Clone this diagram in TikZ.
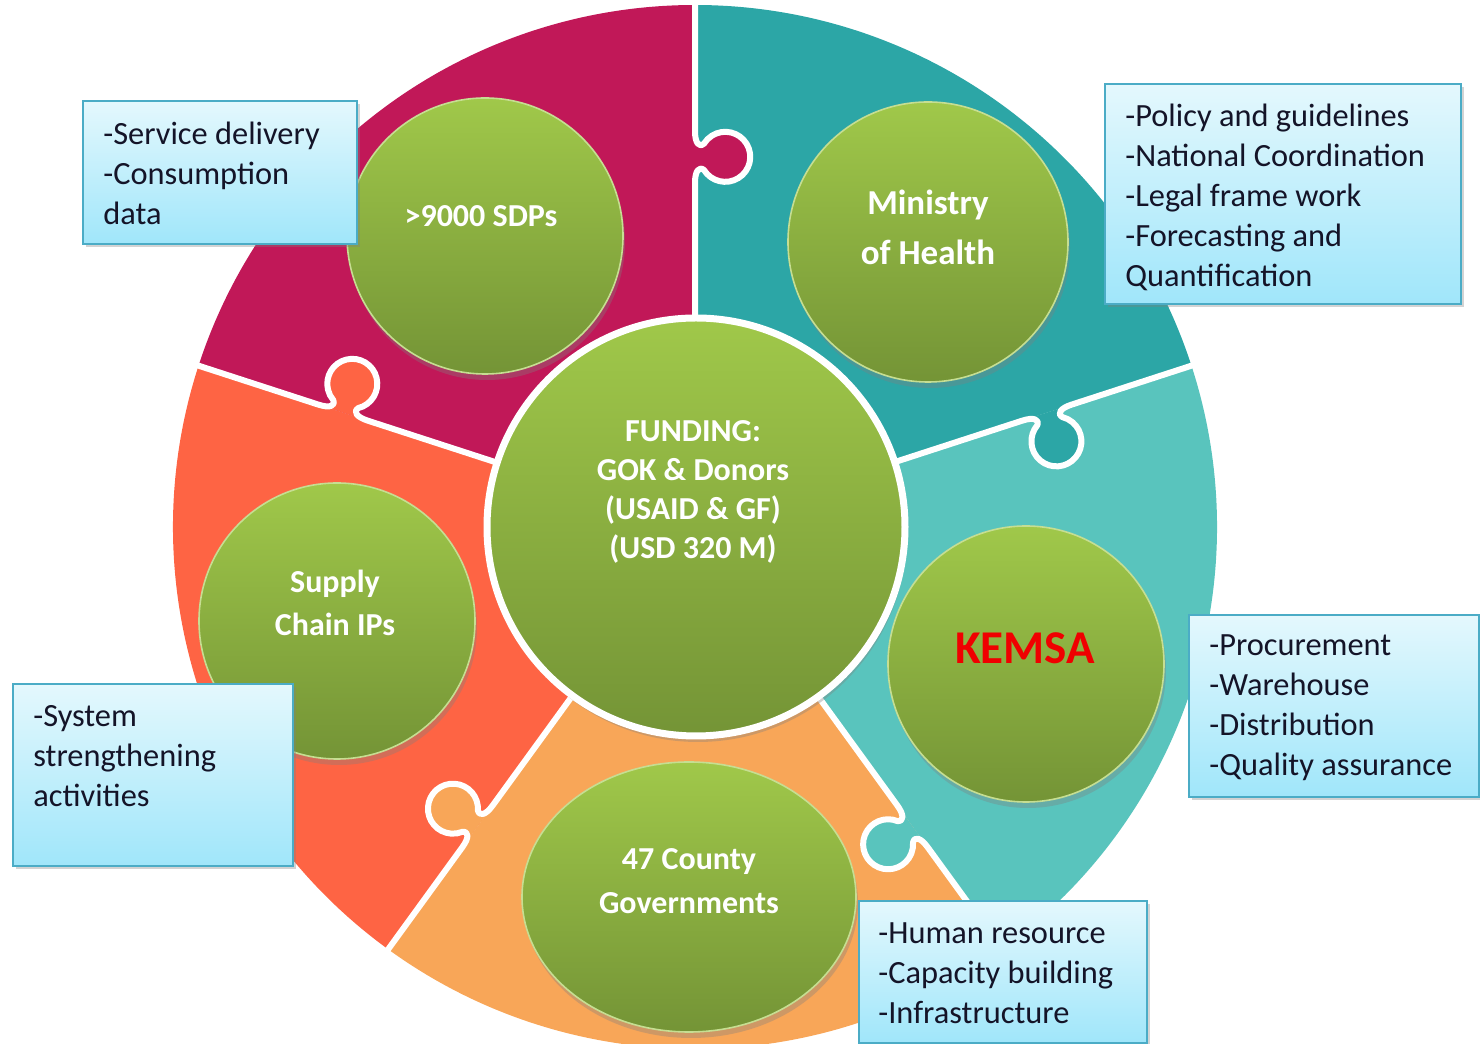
\documentclass[tikz,border=0pt]{standalone}
\usepackage{fontspec}
\setmainfont{Carlito}
\usetikzlibrary{shadows,shapes.geometric}
\definecolor{cMag}{RGB}{193,24,88}
\definecolor{cDTeal}{RGB}{44,166,166}
\definecolor{cLTeal}{RGB}{89,196,189}
\definecolor{cOrg}{RGB}{248,166,88}
\definecolor{cRed}{RGB}{254,100,68}
\definecolor{gTop}{RGB}{160,200,74}
\definecolor{gBot}{RGB}{116,148,54}
\definecolor{bTop}{RGB}{228,248,253}
\definecolor{bBot}{RGB}{160,230,250}
\definecolor{bEdge}{RGB}{75,172,198}
\definecolor{kRed}{RGB}{240,0,0}
\definecolor{bText}{RGB}{20,20,40}
\begin{document}
\begin{tikzpicture}[x=0.5pt,y=0.5pt,
  gcirc/.style={circle, inner sep=0pt, top color=gTop, bottom color=gBot,
    draw=gTop!60!white, line width=0.8pt,
    drop shadow={shadow xshift=1pt, shadow yshift=-3pt, opacity=0.35}},
  ctext/.style={text=white, align=center, inner sep=0pt,
    font=\bfseries\fontsize{16}{21.5}\selectfont},
  infobox/.style={rectangle, inner sep=0pt, anchor=north west,
    top color=bTop, bottom color=bBot, draw=bEdge, line width=0.9pt,
    drop shadow={shadow xshift=1.5pt, shadow yshift=-1.5pt, opacity=0.35}},
  btext/.style={anchor=north west, inner sep=0pt, align=left, text=bText,
    font=\fontsize{16.2}{20}\selectfont},
  divider/.style={white, line width=3pt, line join=round}
]
\useasboundingbox (0,0) rectangle (1480,1044);

% puzzle ring
\begin{scope}[shift={(695,517)}]
  \foreach \a/\col in {90/cMag,162/cRed,234/cOrg,306/cLTeal,18/cDTeal}{
    \fill[\col] (\a:200) -- (\a:522) arc[start angle=\a, end angle={\a+72}, radius=522]
      -- ({\a+72}:200) arc[start angle={\a+72}, end angle=\a, radius=200] -- cycle;
  }
  \foreach \a/\col in {90/cMag,162/cRed,234/cOrg,306/cLTeal,18/cDTeal}{
    \begin{scope}[rotate=\a]
      \fill[\col] (344,0) .. controls (356,0) and (361,-4) .. (357,-9)
        arc[start angle=121.8, end angle=418.2, radius=25]
        .. controls (379,-4) and (384,0) .. (396,0) -- cycle;
      \draw[divider] (195,0) -- (344,0) .. controls (356,0) and (361,-4) .. (357,-9)
        arc[start angle=121.8, end angle=418.2, radius=25]
        .. controls (379,-4) and (384,0) .. (396,0) -- (530,0);
    \end{scope}
  }
\end{scope}

% circles
\node[gcirc, minimum size=209pt, draw=white, line width=3.5pt] (fund) at (696,517) {};
\node[gcirc, minimum size=138pt] (sdp) at (485,808) {};
\node[gcirc, minimum size=140pt] (moh) at (928,802) {};
\node[gcirc, minimum size=138pt] (kemsa) at (1026,380) {};
\node[gcirc, ellipse, minimum width=167pt, minimum height=135pt] (county) at (689,147) {};
\node[gcirc, minimum size=138pt] (supply) at (337,423) {};

% circle texts
\node[ctext] (sdpT) at (481,828) {>9000 SDPs};
\node[ctext, font=\bfseries\fontsize{17.5}{25}\selectfont] (mohT) at (928,817) {Ministry\\of Health};
\node[ctext, font=\bfseries\fontsize{16}{19.5}\selectfont] (fundT) at (693,552) {FUNDING:\\GOK \& Donors\\(USAID \& GF)\\(USD 320 M)};
\node[ctext, text=kRed, font=\bfseries\fontsize{23.5}{28}\selectfont] (kemsaT) at (1025,396) {KEMSA};
\node[ctext] (supplyT) at (335,441) {Supply\\Chain IPs};
\node[ctext, font=\bfseries\fontsize{16}{22}\selectfont] (countyT) at (689,163) {47 County\\Governments};

% info boxes
\node[infobox, minimum width=137pt, minimum height=71.5pt] (b1) at (82,944) {};
\node[infobox, minimum width=178pt, minimum height=110pt] (b2) at (1104,961) {};
\node[infobox, minimum width=145pt, minimum height=91pt] (b3) at (1188,430) {};
\node[infobox, minimum width=144pt, minimum height=71pt] (b4) at (858,144) {};
\node[infobox, minimum width=140pt, minimum height=91pt] (b5) at (12,361) {};

\node[btext] (b1T) at (103,922) {-Service delivery\\-Consumption\\data};
\node[btext] (b2T) at (1125,940) {-Policy and guidelines\\-National Coordination\\-Legal frame work\\-Forecasting and\\Quantification};
\node[btext] (b3T) at (1209,410) {-Procurement\\-Warehouse\\-Distribution\\-Quality assurance};
\node[btext] (b4T) at (878,122) {-Human resource\\-Capacity building\\-Infrastructure};
\node[btext] (b5T) at (33,339) {-System\\strengthening\\activities};
\end{tikzpicture}
\end{document}
